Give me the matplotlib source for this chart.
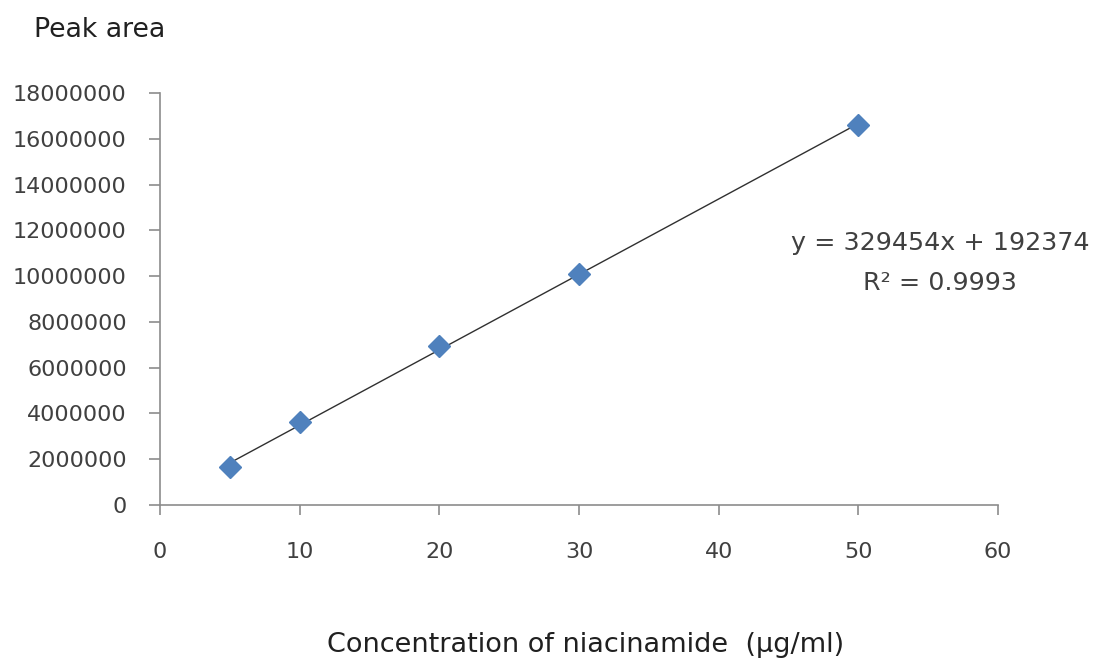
import numpy as np
import matplotlib.pyplot as plt

# Calibration data for niacinamide
conc = [5, 10, 20, 30, 50]
peak_area = [1650000, 3620000, 6950000, 10100000, 16600000]

# Linear trendline
slope = 329454
intercept = 192374
r2 = 0.9993

x_ticks = [0, 10, 20, 30, 40, 50, 60]
y_ticks = [0, 2000000, 4000000, 6000000, 8000000, 10000000,
           12000000, 14000000, 16000000, 18000000]

plt.rcParams['font.family'] = ['DejaVu Sans']
text_col = '#404040'
axis_col = '#8c8c8c'

fig = plt.figure(figsize=(10.96, 6.63), dpi=100)
ax = fig.add_axes([0.146, 0.2383, 0.7646, 0.6214])

# trendline between first and last concentration
xl = np.array([conc[0], conc[-1]])
ax.plot(xl, slope * xl + intercept, color='#303030', lw=1.0, zorder=2)

ax.plot(conc, peak_area, 'D', color='#4f81bd', markersize=11,
        markeredgecolor='#4f81bd', zorder=3, clip_on=False)

ax.set_xlim(0, 60)
ax.set_ylim(0, 18000000)
ax.set_xticks(x_ticks)
ax.set_yticks(y_ticks)
ax.set_xticklabels([str(v) for v in x_ticks])
ax.set_yticklabels([str(v) for v in y_ticks])

for s in ['top', 'right']:
    ax.spines[s].set_visible(False)
for s in ['left', 'bottom']:
    ax.spines[s].set_color(axis_col)
    ax.spines[s].set_linewidth(1.2)

ax.tick_params(axis='both', colors=axis_col, labelcolor=text_col,
               labelsize=16, width=1.2)
ax.tick_params(axis='x', length=7.5, pad=19)
ax.tick_params(axis='y', length=8, pad=16)

fig.text(0.031, 0.955, 'Peak area', fontsize=19.3, color='#202020',
         ha='left', va='center')
fig.text(0.534, 0.008, 'Concentration of niacinamide  (µg/ml)', fontsize=19.5,
         color='#202020', ha='center', va='bottom')

# trendline equation and fit quality
fig.text(0.858, 0.634, 'y = {}x + {}'.format(slope, intercept), fontsize=18.3,
         color=text_col, ha='center', va='center')
fig.text(0.858, 0.573, 'R² = {}'.format(r2), fontsize=18.3, color=text_col,
         ha='center', va='center')

fig.savefig('out.png', dpi=100, facecolor='white')
